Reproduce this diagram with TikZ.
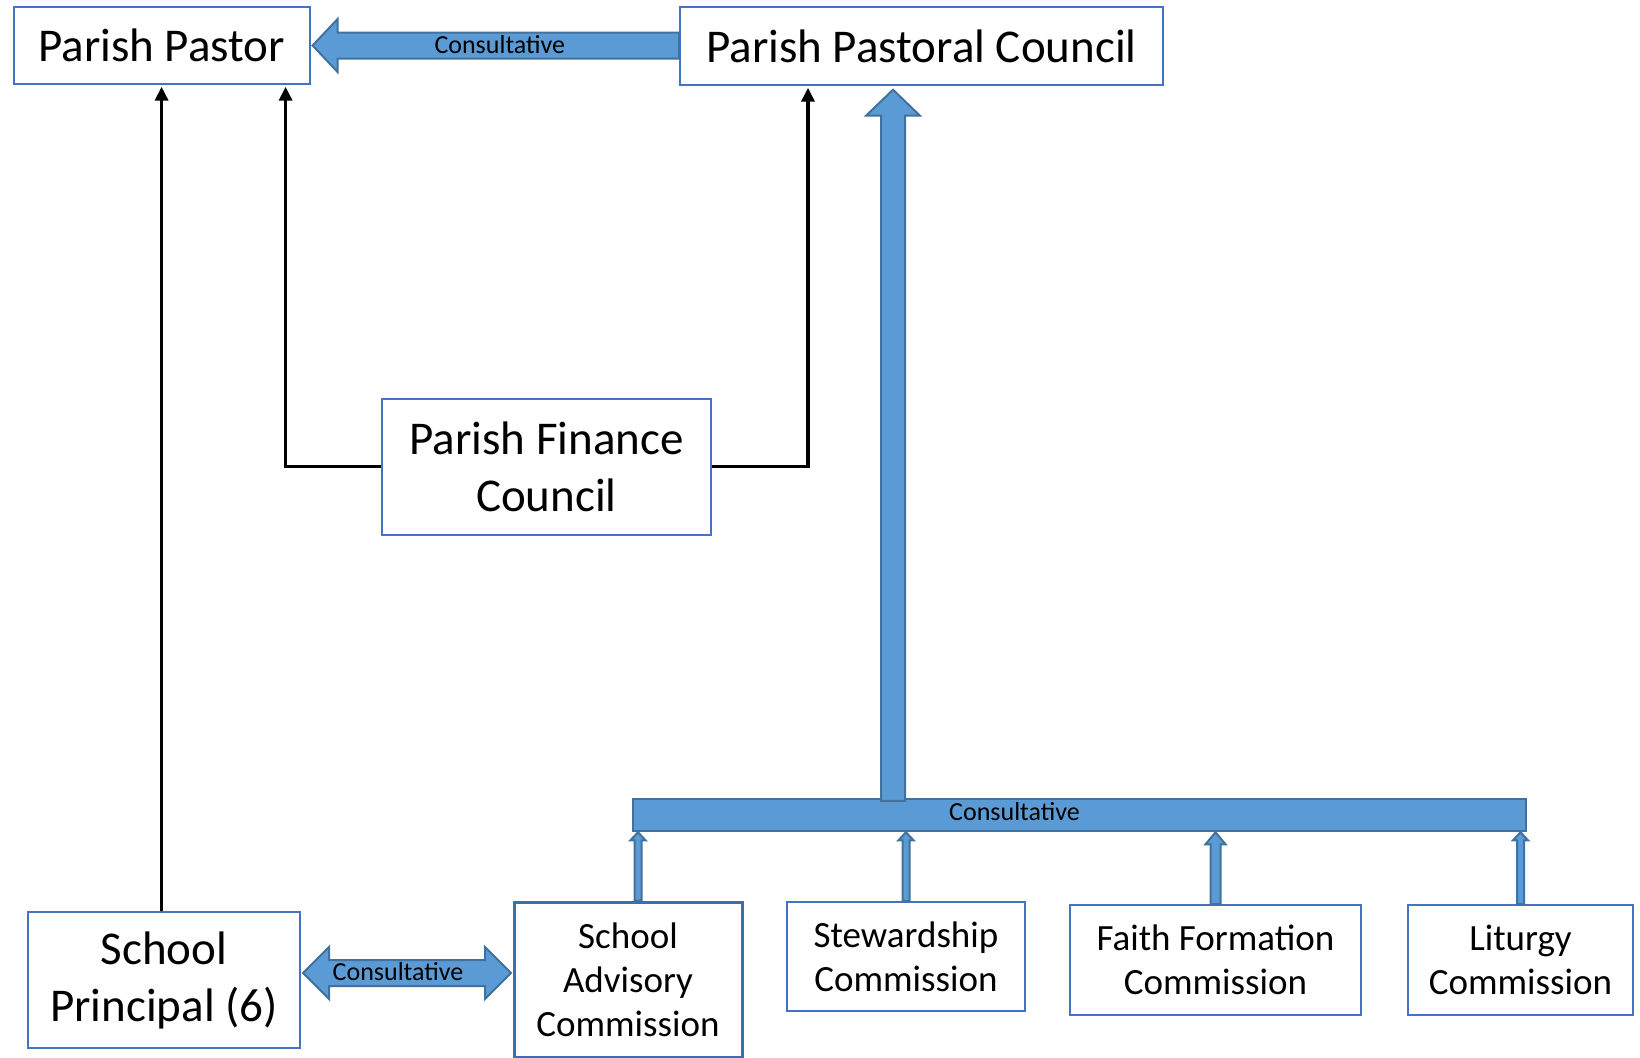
\documentclass[tikz,border=0pt]{standalone}
\usepackage{fontspec}
\setmainfont{Carlito}
\usetikzlibrary{
  arrows.meta,
  calc
}
\definecolor{boxblue}{HTML}{4472C4}
\definecolor{sacblue}{HTML}{3C6EB4}
\definecolor{arrowfill}{HTML}{5B9BD5}
\definecolor{arrowline}{HTML}{41719C}
\tikzset{
  box/.style={draw=boxblue, line width=1pt, align=center, inner sep=0pt},
  big/.style={font=\fontsize{23.5}{28.5}\selectfont},
  small/.style={font=\fontsize{18.5}{22}\selectfont},
  tag/.style={font=\fontsize{13}{15}\selectfont, inner sep=0pt},
  link/.style={line width=1.8pt, -{Triangle[length=7pt,width=6.5pt]}},
  block/.style={fill=arrowfill, draw=arrowline, line width=1pt, line join=miter},
  % shaft half / head half / head length, tip at the target
  block up/.style args={#1/#2/#3}{block, to path={
      ($(\tikztostart)+(-#1,0)$) -- ($(\tikztotarget)+(-#1,#3)$)
      -- ($(\tikztotarget)+(-#2,#3)$) -- (\tikztotarget)
      -- ($(\tikztotarget)+(#2,#3)$) -- ($(\tikztotarget)+(#1,#3)$)
      -- ($(\tikztostart)+(#1,0)$) -- cycle}},
  block left/.style args={#1/#2/#3}{block, to path={
      ($(\tikztostart)+(0,-#1)$) -- ($(\tikztotarget)+(#3,-#1)$)
      -- ($(\tikztotarget)+(#3,-#2)$) -- (\tikztotarget)
      -- ($(\tikztotarget)+(#3,#2)$) -- ($(\tikztotarget)+(#3,#1)$)
      -- ($(\tikztostart)+(0,#1)$) -- cycle}},
  block both/.style args={#1/#2/#3}{block, to path={
      (\tikztostart) -- ($(\tikztostart)+(#3,-#2)$) -- ($(\tikztostart)+(#3,-#1)$)
      -- ($(\tikztotarget)+(-#3,-#1)$) -- ($(\tikztotarget)+(-#3,-#2)$)
      -- (\tikztotarget) -- ($(\tikztotarget)+(-#3,#2)$)
      -- ($(\tikztotarget)+(-#3,#1)$) -- ($(\tikztostart)+(#3,#1)$)
      -- ($(\tikztostart)+(#3,#2)$) -- cycle}},
}

\begin{document}
\begin{tikzpicture}[x=0.5pt, y=-0.5pt]
  \useasboundingbox (0,0) rectangle (1640,1057);

  % top row
  \node (pastor) [box, big, minimum width=148pt, minimum height=38.2pt]
    at (161.6,45.5) {Parish Pastor};
  \node (ppc) [box, big, minimum width=241.5pt, minimum height=38.7pt]
    at (921.5,46) {Parish Pastoral Council};

  % middle
  \node (pfc) [box, big, minimum width=164.5pt, minimum height=68pt]
    at (546.5,466.5) {Parish Finance\\Council};

  % bottom row
  \node (principal) [box, big, minimum width=136pt, minimum height=68pt]
    at (164,980) {School\\Principal (6)};
  \node (sac) [box, small, draw=sacblue, line width=1.5pt,
    minimum width=114pt, minimum height=77.5pt]
    at (628,979.5) {School\\Advisory\\Commission};
  \node (stew) [box, small, minimum width=119pt, minimum height=54.5pt]
    at (906,956.5) {Stewardship\\Commission};
  \node (faith) [box, small, minimum width=145.5pt, minimum height=55pt]
    at (1215.5,960) {Faith Formation\\Commission};
  \node (lit) [box, small, minimum width=112.5pt, minimum height=55pt]
    at (1520.5,960) {Liturgy\\Commission};

  % consultative bar
  \node (bar) [block, minimum width=446.5pt, minimum height=16.25pt, inner sep=0pt]
    at (1079.5,815) {};
  \node (bartag) [tag] at ($(bar.center)+(-65,-3)$) {Consultative};

  % black links
  \draw[link] (principal.north -| pastor.south) -- ($(pastor.south)+(0,2)$);
  \draw[link] (pfc.west) -| ($(pastor.south east)+(-25,2)$);
  \draw[link] (pfc.east) -| ($(ppc.south west)+(129,2)$);

  % block arrows
  \coordinate (pa) at ($(pastor.east)+(2,0)$);
  \draw[block left=13/26.5/25] (ppc.west |- pa) to (pa);
  \node (toptag) [tag] at ($(ppc.west |- pa)!0.5!(pa)+(4,-1)$) {Consultative};

  \coordinate (dl) at ($(principal.east)+(2,-7)$);
  \coordinate (dr) at ($(sac.west |- dl)+(-1.5,0)$);
  \draw[block both=13/26/26] (dl) to (dr);
  \node (lowtag) [tag] at ($(dl)!0.5!(dr)+(-9,-1)$) {Consultative};

  \coordinate (bigtip) at ($(ppc.south)+(-28.5,4)$);
  \coordinate (bigfoot) at ($(bigtip |- bar.north)+(0,3)$);
  \draw[block up=12/27/26] (bigfoot) to (bigtip);

  \coordinate (sacfoot) at ($(sac.north)+(10,0)$);
  \draw[block up=3.5/7.5/8] (sacfoot) to (sacfoot |- bar.south);
  \draw[block up=3.5/7.5/8] (stew.north) to (stew.north |- bar.south);
  \draw[block up=5/10/12] (faith.north) to (faith.north |- bar.south);
  \draw[block up=3.5/7.5/8] (lit.north) to (lit.north |- bar.south);
\end{tikzpicture}
\end{document}
